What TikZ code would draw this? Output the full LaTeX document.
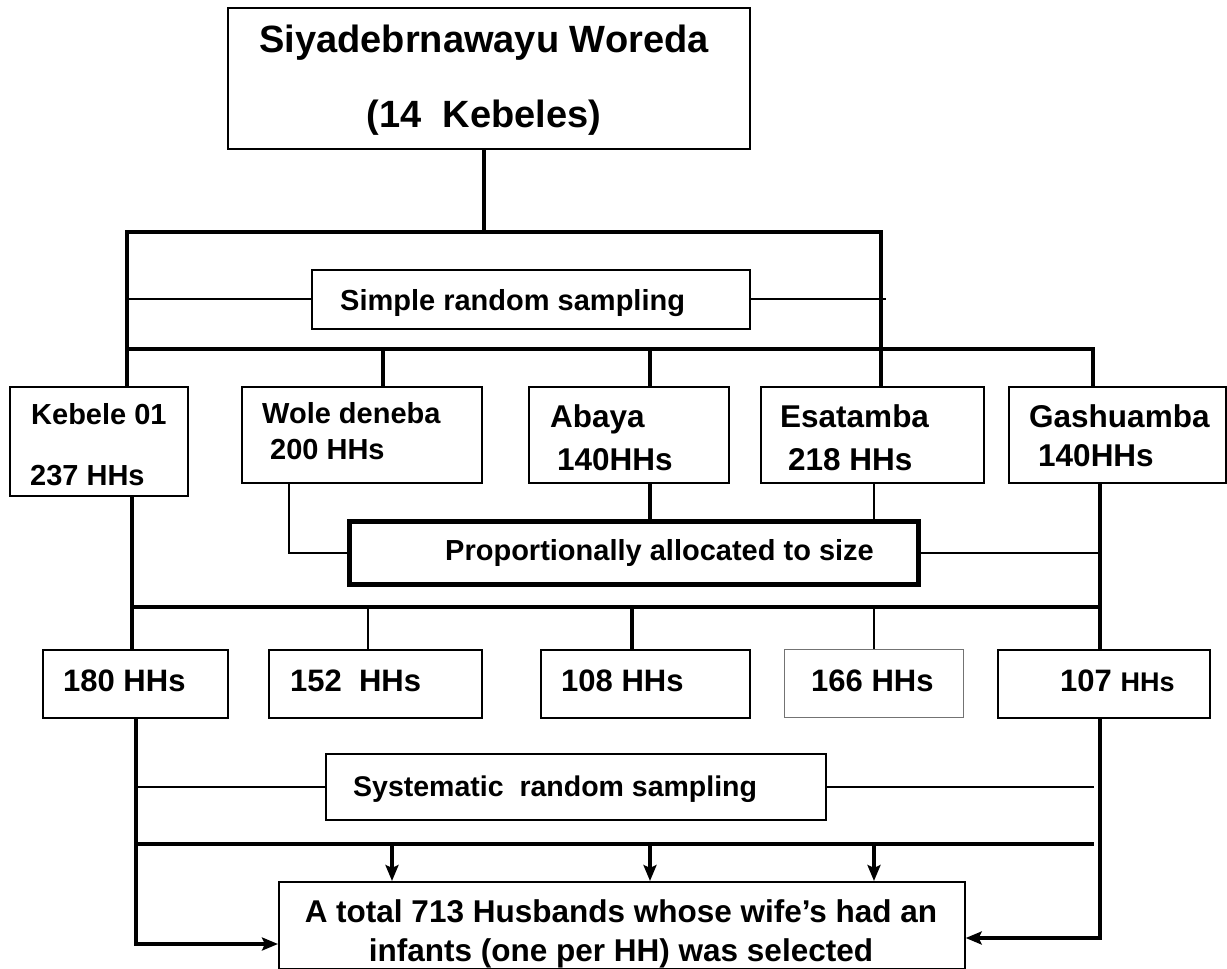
\documentclass[tikz,border=0pt]{standalone}
\usepackage{fontspec}
\setmainfont{Liberation Sans}
\usetikzlibrary{arrows.meta}
\newcommand{\fsz}[1]{\fontsize{#1}{#1}\selectfont\bfseries}
\begin{document}
\begin{tikzpicture}[x=1pt,y=-1pt,
  box/.style={draw, line width=1.7pt, inner sep=0pt, anchor=north west},
  tx/.style={anchor=base west, inner sep=0pt},
  ctx/.style={anchor=base, inner sep=0pt},
  Lfour/.style={line width=4.5pt, line join=miter},
  Lthree/.style={line width=3.3pt},
  Ltwo/.style={line width=2pt},
  arr/.style={-{Stealth[length=16pt,width=13pt,inset=3pt]}},
]
\useasboundingbox (0,0) rectangle (1227,969);
% ---------- boxes ----------
\node[box, minimum width=522pt, minimum height=141pt] (top) at (227,7) {};
\node[box, minimum width=438pt, minimum height=59pt] (srs) at (311,269) {};
\node[box, minimum width=178pt, minimum height=109pt] (kb) at (9,386) {};
\node[box, minimum width=240pt, minimum height=96pt] (wd) at (241,386) {};
\node[box, minimum width=200pt, minimum height=96pt] (ab) at (528,386) {};
\node[box, minimum width=223pt, minimum height=96pt] (es) at (760,386) {};
\node[box, minimum width=217pt, minimum height=96pt] (gs) at (1008,386) {};
\node[box, line width=5pt, minimum width=569pt, minimum height=63pt] (pa) at (347,519) {};
\node[box, minimum width=185pt, minimum height=68pt] (h1) at (42,649) {};
\node[box, minimum width=213pt, minimum height=68pt] (h2) at (268,649) {};
\node[box, minimum width=209pt, minimum height=68pt] (h3) at (540,649) {};
\node[box, draw=black!55, line width=1.3pt, minimum width=179pt, minimum height=68pt] (h4) at (784,649) {};
\node[box, minimum width=212pt, minimum height=68pt] (h5) at (997,649) {};
\node[box, minimum width=500pt, minimum height=66pt] (sy) at (325,753) {};
\node[box, minimum width=686pt, minimum height=87pt] (fin) at (278,881) {};
% ---------- texts ----------
\node[ctx, font=\fsz{38}] (t1) at (484,52) {Siyadebrnawayu Woreda};
\node[ctx, font=\fsz{38}] (t2) at (484,127) {(14~~Kebeles)};
\node[tx, font=\fsz{29}] (tsrs) at (340,310) {Simple random sampling};
\node[tx, font=\fsz{29}] (tkb1) at (31,424) {Kebele 01};
\node[tx, font=\fsz{29}] (tkb2) at (30,485) {237 HHs};
\node[tx, font=\fsz{29}] (twd1) at (262,423) {Wole deneba};
\node[tx, font=\fsz{29}] (twd2) at (270,459) {200 HHs};
\node[tx, font=\fsz{31.5}] (tab1) at (550,427) {Abaya};
\node[tx, font=\fsz{31.5}] (tab2) at (557,470) {140HHs};
\node[tx, font=\fsz{31.5}] (tes1) at (780,427) {Esatamba};
\node[tx, font=\fsz{31.5}] (tes2) at (788,470) {218 HHs};
\node[tx, font=\fsz{31.5}] (tgs1) at (1029,427) {Gashuamba};
\node[tx, font=\fsz{31.5}] (tgs2) at (1038,466) {140HHs};
\node[tx, font=\fsz{29}] (tpa) at (445,560) {Proportionally allocated to size};
\node[tx, font=\fsz{31}] (th1) at (63,691) {180 HHs};
\node[tx, font=\fsz{31}] (th2) at (290,691) {152~~HHs};
\node[tx, font=\fsz{31}] (th3) at (561,691) {108 HHs};
\node[tx, font=\fsz{31}] (th4) at (811,691) {166 HHs};
\node[tx, font=\fsz{31}] (th5) at (1060,691) {107 {\fsz{27}HHs}};
\node[tx, font=\fsz{28.5}] (tsy) at (353,796) {Systematic~~random sampling};
\node[ctx, font=\fsz{31.5}] (tf1) at (621,922) {A total 713 Husbands whose wife’s had an};
\node[ctx, font=\fsz{31.5}] (tf2) at (621,961) {infants (one per HH) was selected};
% ---------- junction coordinates ----------
\coordinate (a0) at (484,232);
\coordinate (a1) at (127,232);
\coordinate (a2) at (881,232);
\coordinate (s1) at (886,0);
\coordinate (b1) at (127,349);
\coordinate (b2) at (1093,349);
\coordinate (b3) at (383,349);
\coordinate (b4) at (650,349);
\coordinate (k1) at (132,0);
\coordinate (w1) at (289,0);
\coordinate (e1) at (874,0);
\coordinate (g1) at (1100,0);
\coordinate (c1) at (132,607);
\coordinate (c2) at (1100,607);
\coordinate (c3) at (368,607);
\coordinate (c4) at (632,607);
\coordinate (c5) at (874,607);
\coordinate (d1) at (136,944);
\coordinate (d2) at (1100,938);
\coordinate (d3) at (1094,0);
\coordinate (f1) at (136,844);
\coordinate (f2) at (1094,844);
\coordinate (f3) at (392,844);
\coordinate (f4) at (650,844);
\coordinate (f5) at (874,844);
% ---------- connectors ----------
\draw[Lfour] (top.south -| a0) -- (a0);
\draw[Lfour] (kb.north -| a1) -- (a1) -- (a2) -- (es.north -| a2);
\draw[Ltwo] (srs.west -| a1) -- (srs.west);
\draw[Ltwo] (srs.east) -- (srs.east -| s1);
\draw[Lfour] (b1) -- (b2) -- (gs.north -| b2);
\draw[Lthree] (b3) -- (b3 |- wd.north);
\draw[Lthree] (b4) -- (b4 |- ab.north);
\draw[Lfour] (kb.south -| k1) -- (h1.north -| k1);
\draw[Ltwo] (wd.south -| w1) -- (w1 |- pa.west) -- (pa.west);
\draw[Lthree] (ab.south -| b4) -- (pa.north -| b4);
\draw[Ltwo] (es.south -| e1) -- (pa.north -| e1);
\draw[Lfour] (gs.south -| g1) -- (h5.north -| g1);
\draw[Ltwo] (pa.east) -- (pa.east -| g1);
\draw[Lthree] (c1) -- (c2);
\draw[Ltwo] (c3) -- (c3 |- h2.north);
\draw[Lthree] (c4) -- (c4 |- h3.north);
\draw[Ltwo] (c5) -- (c5 |- h4.north);
\draw[Lfour, arr] (h1.south -| d1) -- (d1) -- (fin.west |- d1);
\draw[Lfour, arr] (h5.south -| d2) -- (d2) -- (fin.east |- d2);
\draw[Ltwo] (sy.west -| d1) -- (sy.west);
\draw[Ltwo] (sy.east) -- (sy.east -| d3);
\draw[Lfour] (f1) -- (f2);
\draw[Lthree, arr] (f3) -- (f3 |- fin.north);
\draw[Lthree, arr] (f4) -- (f4 |- fin.north);
\draw[Lthree, arr] (f5) -- (f5 |- fin.north);
\end{tikzpicture}
\end{document}
